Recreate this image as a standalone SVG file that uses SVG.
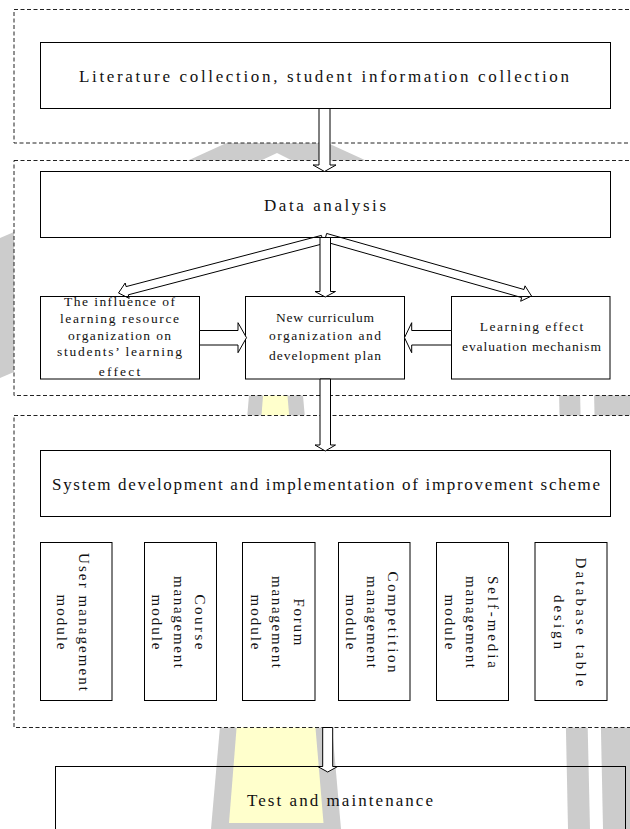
<svg xmlns="http://www.w3.org/2000/svg" width="630" height="829" viewBox="0 0 630 829">
<style>
.grp{fill:#fff;stroke:#222;stroke-width:1;stroke-dasharray:4 2.5}
.box{fill:#fff;stroke:#000;stroke-width:1}
.arr{fill:#fff;stroke:#000;stroke-width:1;stroke-linejoin:miter}
.arrn{fill:none;stroke:#000;stroke-width:1}
.t{font-family:"Liberation Serif","DejaVu Serif",serif;fill:#111;text-anchor:middle}
.big{font-size:17px}
.mid{font-size:13.5px}
.v{font-family:"Liberation Serif","DejaVu Serif",serif;font-size:15px;fill:#111;text-anchor:middle;dominant-baseline:central}
.wg{fill:#cccccc}
.wy{fill:#ffffcc}
</style>
<rect width="630" height="829" fill="#fff"/>
<g id="watermark">
<polygon class="wg" points="187,161 233,140 321,140 367,161 293,161 277,153 260,161"/>
<polygon class="wg" points="0,238 14,232 14,372 0,378"/>
<polygon class="wg" points="249.5,390 302.5,390 341,829 211,829"/>
<polygon class="wy" points="263.5,390 287,390 323.5,823 229,823"/>
<polygon class="wg" points="559,390 580,390 590,829 568,829"/>
<polygon class="wg" points="594,390 640,390 640,829 603,829"/>
</g>
<g id="stage-collection"><rect class="grp" x="14" y="9.5" width="640" height="133.5"/></g>
<g id="stage-analysis"><rect class="grp" x="14" y="160.5" width="640" height="235"/></g>
<g id="stage-system"><rect class="grp" x="14" y="415.5" width="640" height="312"/></g>

<g id="n-literature">
<rect class="box" x="40.5" y="42.5" width="570" height="66"/>
<text class="t big" x="324" y="82" textLength="490" lengthAdjust="spacing">Literature collection, student information collection</text>
</g>
<g id="n-data">
<rect class="box" x="40.5" y="171.5" width="570" height="66"/>
<text class="t big" x="325" y="211" textLength="122" lengthAdjust="spacing">Data analysis</text>
</g>
<g id="n-influence">
<rect class="box" x="40.5" y="296.5" width="159" height="82.5"/>
<text class="t mid" x="119.5" y="306" textLength="111" lengthAdjust="spacing">The influence of</text>
<text class="t mid" x="119.5" y="322.5" textLength="119" lengthAdjust="spacing">learning resource</text>
<text class="t mid" x="119.5" y="339.5" textLength="103" lengthAdjust="spacing">organization on</text>
<text class="t mid" x="119.5" y="356" textLength="125" lengthAdjust="spacing">students’ learning</text>
<text class="t mid" x="119.5" y="376" textLength="41.5" lengthAdjust="spacing">effect</text>
</g>
<g id="n-curriculum">
<rect class="box" x="245.5" y="296.5" width="159" height="82.5"/>
<text class="t mid" x="325" y="321.5" textLength="98" lengthAdjust="spacing">New curriculum</text>
<text class="t mid" x="325" y="339.5" textLength="112" lengthAdjust="spacing">organization and</text>
<text class="t mid" x="325" y="360" textLength="112" lengthAdjust="spacing">development plan</text>
</g>
<g id="n-evaluation">
<rect class="box" x="451.5" y="296.5" width="158.5" height="82.5"/>
<text class="t mid" x="531.5" y="330.5" textLength="103.5" lengthAdjust="spacing">Learning effect</text>
<text class="t mid" x="531.5" y="351" textLength="139" lengthAdjust="spacing">evaluation mechanism</text>
</g>
<g id="n-system">
<rect class="box" x="40.5" y="450.5" width="570" height="66"/>
<text class="t big" x="326" y="490" textLength="548" lengthAdjust="spacing">System development and implementation of improvement scheme</text>
</g>
<g id="n-user">
<rect class="box" x="40.5" y="542.5" width="71.5" height="158"/>
<text class="v" transform="translate(84,622) rotate(90)" textLength="138" lengthAdjust="spacing">User management</text>
<text class="v" transform="translate(61.5,622) rotate(90)" textLength="55" lengthAdjust="spacing">module</text>
</g>
<g id="n-course">
<rect class="box" x="144.5" y="542.5" width="72" height="158"/>
<text class="v" transform="translate(200,622) rotate(90)" textLength="55" lengthAdjust="spacing">Course</text>
<text class="v" transform="translate(178.5,622) rotate(90)" textLength="92" lengthAdjust="spacing">management</text>
<text class="v" transform="translate(157,622) rotate(90)" textLength="55" lengthAdjust="spacing">module</text>
</g>
<g id="n-forum">
<rect class="box" x="242.5" y="542.5" width="72.5" height="158"/>
<text class="v" transform="translate(299,622) rotate(90)" textLength="47" lengthAdjust="spacing">Forum</text>
<text class="v" transform="translate(277,622) rotate(90)" textLength="92" lengthAdjust="spacing">management</text>
<text class="v" transform="translate(255.5,622) rotate(90)" textLength="55" lengthAdjust="spacing">module</text>
</g>
<g id="n-competition">
<rect class="box" x="338.5" y="542.5" width="71.5" height="158"/>
<text class="v" transform="translate(393,622) rotate(90)" textLength="101" lengthAdjust="spacing">Competition</text>
<text class="v" transform="translate(371.5,622) rotate(90)" textLength="92" lengthAdjust="spacing">management</text>
<text class="v" transform="translate(350.5,622) rotate(90)" textLength="55" lengthAdjust="spacing">module</text>
</g>
<g id="n-selfmedia">
<rect class="box" x="436.5" y="542.5" width="72" height="158"/>
<text class="v" transform="translate(492.5,622) rotate(90)" textLength="92" lengthAdjust="spacing">Self-media</text>
<text class="v" transform="translate(471,622) rotate(90)" textLength="92" lengthAdjust="spacing">management</text>
<text class="v" transform="translate(449.5,622) rotate(90)" textLength="55" lengthAdjust="spacing">module</text>
</g>
<g id="n-database">
<rect class="box" x="535" y="542.5" width="72" height="158"/>
<text class="v" transform="translate(580.5,622) rotate(90)" textLength="129" lengthAdjust="spacing">Database table</text>
<text class="v" transform="translate(559,622) rotate(90)" textLength="54" lengthAdjust="spacing">design</text>
</g>
<g id="n-test">
<rect x="55.5" y="766.5" width="570" height="100" fill="none" stroke="#000" stroke-width="1"/>
<text class="t big" x="340" y="805.5" textLength="186" lengthAdjust="spacing">Test and maintenance</text>
</g>

<g id="connectors">
<polygon class="arr" points="319,108.5 330,108.5 330,165 336,165 324.5,171.5 313,165 319,165"/>
<polygon class="arrn" points="321.4,235.4 126.1,286.6 125.2,283 118.5,293 129.2,298.4 128.3,294.8 323.6,243.6"/>
<polygon class="arrn" points="324.35,241.54 521.69,297.58 520.65,301.24 531.5,296 525.03,285.84 523.99,289.5 326.65,233.46"/>
<polygon class="arr" points="320,237.5 330.5,237.5 330.5,291.5 335.5,291.5 325.25,297 315,291.5 320,291.5"/>
<polygon class="arr" points="199.5,330.5 238,330.5 238,322.7 246.5,337.7 238,352.7 238,345 199.5,345"/>
<polygon class="arr" points="451.5,330.5 411.7,330.5 411.7,322.7 404.5,337.7 411.7,352.7 411.7,345 451.5,345"/>
<polygon class="arr" points="320,379 330.5,379 330.5,445 335.5,445 325.25,451 315,445 320,445"/>
<polygon class="arr" points="322.7,727.5 332.7,727.5 332.7,766.5 337.7,766.5 327.7,772 317.7,766.5 322.7,766.5"/>
</g>
</svg>
